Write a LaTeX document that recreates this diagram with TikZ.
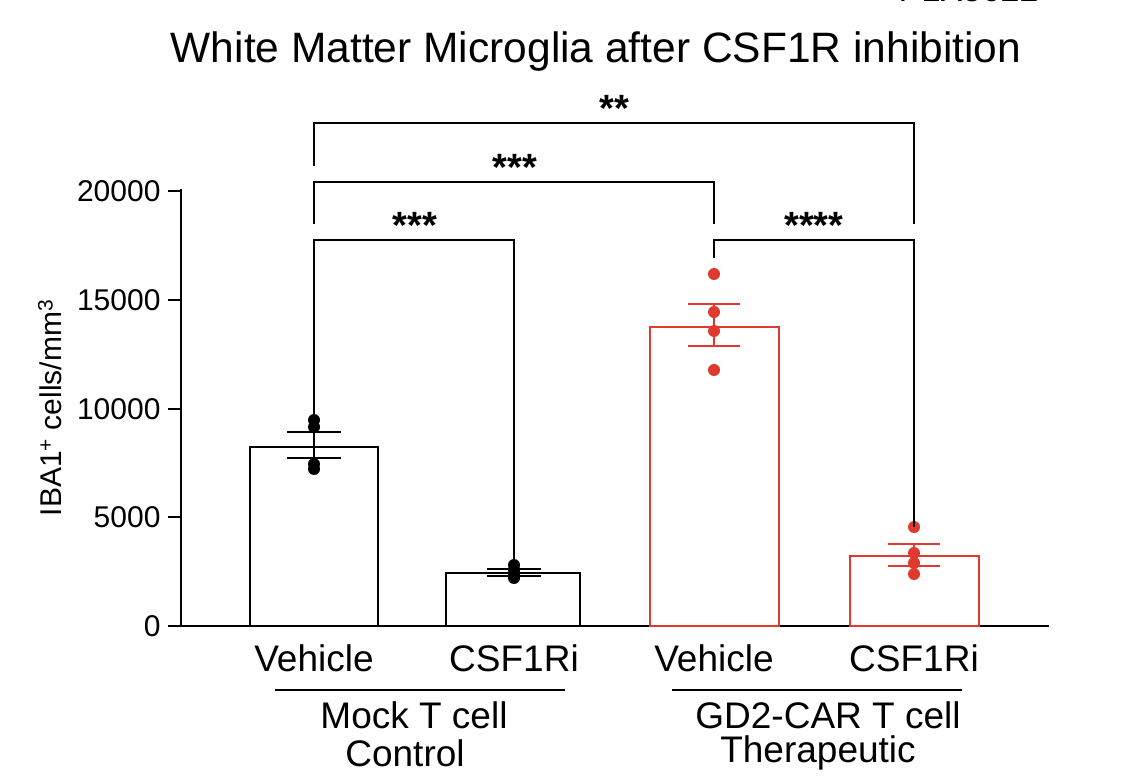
\documentclass[tikz,border=0pt]{standalone}
\usepackage{fontspec}
\setmainfont{Liberation Sans}
\definecolor{cred}{RGB}{224,58,46}
\begin{document}
\begin{tikzpicture}[x=1pt,y=-1pt,
  ax/.style={line width=2.8pt,line cap=rect},
  bk/.style={line width=2.8pt},
  barb/.style={line width=2.8pt,draw=black,fill=white},
  barr/.style={line width=2.8pt,draw=cred,fill=white},
  dotb/.style={circle,fill=black,inner sep=0pt,minimum size=12pt},
  dotr/.style={circle,fill=cred,inner sep=0pt,minimum size=12pt},
  tl/.style={font=\fontsize{30}{32}\selectfont,anchor=east},
  cl/.style={font=\fontsize{37}{40}\selectfont},
  st/.style={font=\fontsize{38}{38}\selectfont\bfseries}]
\clip (0,0) rectangle (1125,783);
\fill[white] (0,0) rectangle (1125,783);
\node[font=\fontsize{34}{34}\selectfont,anchor=east] (plx) at (1042,-10) {PLX5622};
\node[font=\fontsize{42.5}{46}\selectfont] (title) at (596,52) {White Matter Microglia after CSF1R inhibition};
% axes
\draw[ax] (181,190) -- (181,626) -- (1048,626);
\foreach \v/\y in {0/626,5000/517,10000/409,15000/300,20000/191}{
  \draw[ax] (169,\y) -- (181,\y);
  \node[tl] at (164,\y) {\v};
}
\node[rotate=90,font=\fontsize{30}{32}\selectfont] (ylab) at (50,408) {IBA1\textsuperscript{+} cells/mm\textsuperscript{3}};
% bars
\draw[barb] (250,626) rectangle (378,447);
\draw[barb] (446,626) rectangle (580,573);
\draw[barr] (650,626) rectangle (779,327);
\draw[barr] (850,626) rectangle (979,556);
% error bars
\draw[bk] (314,432) -- (314,458) (287,432) -- (341,432) (287,458) -- (341,458);
\draw[bk] (514,569) -- (514,576) (487,569) -- (541,569) (487,576) -- (541,576);
\draw[bk,draw=cred] (714,304) -- (714,346) (688,304) -- (740,304) (688,346) -- (740,346);
\draw[bk,draw=cred] (914,544) -- (914,566) (888,544) -- (940,544) (888,566) -- (940,566);
% dots
\foreach \y in {420,427,464,469} \node[dotb] at (314,\y) {};
\foreach \y in {565,570,574,578} \node[dotb] at (514,\y) {};
\foreach \y in {274,312,331,370} \node[dotr] at (714,\y) {};
\foreach \y in {527,553,563,574} \node[dotr] at (914,\y) {};
% brackets
\draw[bk] (314,166) -- (314,123) -- (914,123) -- (914,224);
\node[st] (s1) at (614,108) {**};
\draw[bk] (314,224) -- (314,182) -- (714,182) -- (714,224);
\node[st] (s2) at (515,167) {***};
\draw[bk] (314,420) -- (314,240) -- (514,240) -- (514,568);
\node[st] (s3) at (415,225) {***};
\draw[bk] (714,258) -- (714,240) -- (914,240) -- (914,527);
\node[st] (s4) at (814,225) {****};
% labels
\node[cl] (v1) at (314,658) {Vehicle};
\node[cl] (c1) at (514,658) {CSF1Ri};
\node[cl] (v2) at (714,658) {Vehicle};
\node[cl] (c2) at (914,658) {CSF1Ri};
\draw[line width=2.4pt] (275,690) -- (565,690);
\draw[line width=2.4pt] (672,690) -- (962,690);
\node[cl] (g1) at (414,715) {Mock T cell};
\node[cl] (g1b) at (405,753) {Control};
\node[cl] (g2) at (828,715) {GD2-CAR T cell};
\node[cl] (g2b) at (818,753) {Therapeutic};
\end{tikzpicture}
\end{document}
